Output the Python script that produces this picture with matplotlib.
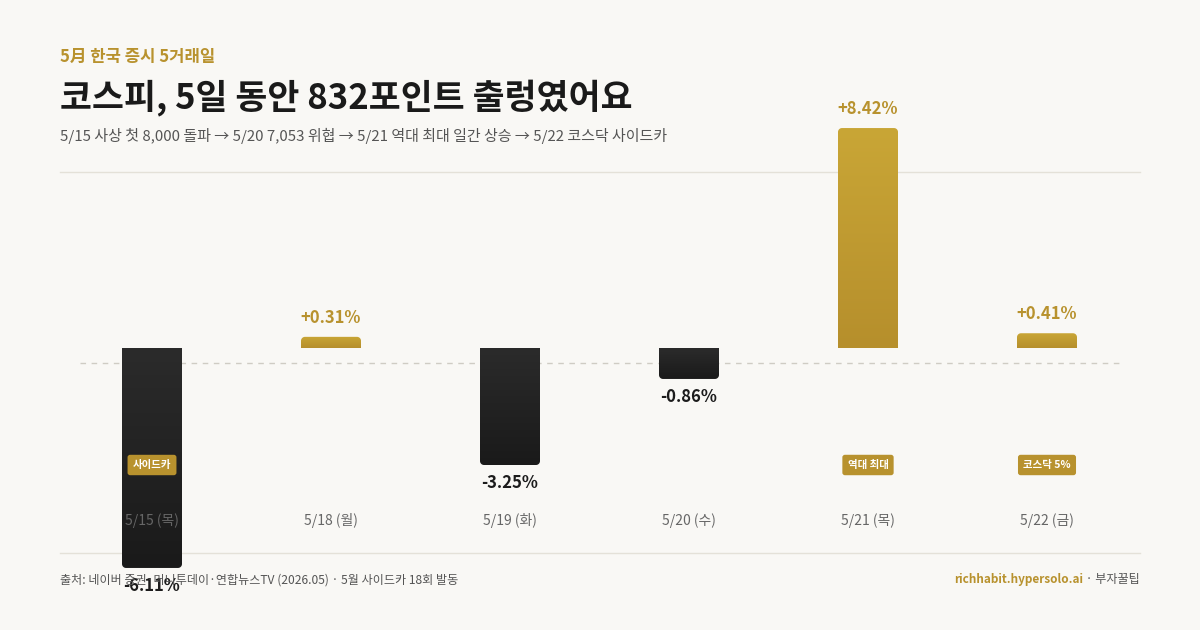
import numpy as np
import matplotlib
matplotlib.use("Agg")
import matplotlib.pyplot as plt
from matplotlib.colors import LinearSegmentedColormap
from matplotlib.path import Path
from matplotlib.patches import PathPatch
from matplotlib.lines import Line2D
from matplotlib.transforms import blended_transform_factory

plt.rcParams['font.family'] = ['Noto Sans CJK KR', 'DejaVu Sans']

# data
days = ['5/15 (목)', '5/18 (월)', '5/19 (화)', '5/20 (수)', '5/21 (목)', '5/22 (금)']
changes = [-6.11, 0.31, -3.25, -0.86, 8.42, 0.41]
badges = ['사이드카', '', '', '', '역대 최대', '코스닥 5%']
bar_cap = 6.11  # longest bar drawn; bigger moves are clipped to this height

kicker = '5月 한국 증시 5거래일'
title = '코스피, 5일 동안 832포인트 출렁였어요'
subtitle = '5/15 사상 첫 8,000 돌파 → 5/20 7,053 위협 → 5/21 역대 최대 일간 상승 → 5/22 코스닥 사이드카'
source = '출처: 네이버 증권·머니투데이·연합뉴스TV (2026.05) · 5월 사이드카 18회 발동'
site = 'richhabit.hypersolo.ai'
brand = ' · 부자꿀팁'

BG = '#f9f8f5'
GOLD = '#b8922e'
INK = '#1c1c1c'
GREY = '#555555'
W, H = 1200, 630


def fx(x):
    return x / W


def fy(y):
    return 1 - y / H


def bar_path(x0, x1, base, end, rx, ry):
    # rectangle with the far end (away from zero) rounded
    s = 1 if end > base else -1
    t = np.linspace(0, np.pi / 2, 10)
    cy = end - s * ry
    left = np.column_stack([x0 + rx - rx * np.cos(t), cy + s * ry * np.sin(t)])
    right = np.column_stack([x1 - rx + rx * np.sin(t), cy + s * ry * np.cos(t)])
    verts = np.vstack([[x0, base], left, right, [x1, base], [x0, base]])
    codes = [Path.MOVETO] + [Path.LINETO] * (len(verts) - 2) + [Path.CLOSEPOLY]
    return Path(verts, codes)


fig = plt.figure(figsize=(12, 6.3), dpi=100, facecolor=BG)

# plot area: zero at y=348px, 36px per percent, 179px per day
px_per_pct = 36
ax = fig.add_axes([fx(62.5), fy(600), fx(1136.5) - fx(62.5), 500 / H])
ax.axis('off')
ax.patch.set_alpha(0)

# guide lines (behind the bars)
for y0, x0, x1, style, col in [(172, 60, 1140, '-', '#e4e1d8'),
                               (553, 60, 1140, '-', '#e4e1d8'),
                               (363, 80, 1120, (0, (4, 4)), '#cfccc4')]:
    ax.add_line(Line2D([fx(x0), fx(x1)], [fy(y0), fy(y0)], transform=fig.transFigure,
                       color=col, lw=1, linestyle=style, clip_on=False, zorder=1))

gold_cmap = LinearSegmentedColormap.from_list('g', ['#c9a636', '#b68f2c'])
dark_cmap = LinearSegmentedColormap.from_list('d', ['#2b2b2b', '#1a1a1a'])
grad = np.linspace(0, 1, 128).reshape(-1, 1)

bw = 60 / 179
rx = 4 / 179
ry = 4 / px_per_pct
bt = blended_transform_factory(ax.transData, fig.transFigure)

for i, (v, day, badge) in enumerate(zip(changes, days, badges)):
    shown = float(np.clip(v, -bar_cap, bar_cap))
    x0, x1 = i - bw / 2, i + bw / 2
    patch = PathPatch(bar_path(x0, x1, 0, shown, rx, ry), fc='none', ec='none')
    ax.add_patch(patch)
    im = ax.imshow(grad, cmap=gold_cmap if v > 0 else dark_cmap, aspect='auto',
                   extent=(x0, x1, min(0, shown), max(0, shown)), zorder=2,
                   interpolation='bilinear')
    im.set_clip_path(patch)

    if v > 0:
        ax.annotate(f'{v:+.2f}%', xy=(i, shown), xytext=(0, 10), textcoords='offset pixels',
                    ha='center', va='bottom', fontsize=12, fontweight='bold', color=GOLD,
                    zorder=5, annotation_clip=False)
    else:
        ax.annotate(f'{v:+.2f}%', xy=(i, shown), xytext=(0, -9), textcoords='offset pixels',
                    ha='center', va='top', fontsize=12, fontweight='bold', color=INK,
                    zorder=5, annotation_clip=False)

    ax.text(i, fy(521), day, transform=bt, ha='center', va='center', fontsize=10,
            color='#666666', zorder=5)
    if badge:
        ax.text(i, fy(465), badge, transform=bt, ha='center', va='center', fontsize=7.5,
                fontweight='bold', color='white', zorder=6,
                bbox=dict(boxstyle='round,pad=0.5,rounding_size=0.25', fc=GOLD, ec='none'))

ax.set_xlim(-0.5, 5.5)
ax.set_ylim(-(600 - 348) / px_per_pct, (348 - 100) / px_per_pct)

# header
fig.text(fx(60), fy(57), kicker, ha='left', va='center', fontsize=12,
         fontweight='bold', color=GOLD)
fig.text(fx(60), fy(98), title, ha='left', va='center', fontsize=25,
         fontweight='bold', color='#1a1a1a')
fig.text(fx(60), fy(136), subtitle, ha='left', va='center', fontsize=10.8, color=GREY)

# footer
fig.text(fx(60), fy(580), source, ha='left', va='center', fontsize=8.7, color=GREY)
t_brand = fig.text(fx(1140), fy(580), brand, ha='right', va='center', fontsize=8.7, color=GREY)
renderer = fig.canvas.get_renderer()
left_px = t_brand.get_window_extent(renderer).x0
fig.text(left_px / W, fy(580), site, ha='right', va='center', fontsize=8.5,
         fontweight='bold', color=GOLD)

fig.savefig('out.png', dpi=100, facecolor=BG)
